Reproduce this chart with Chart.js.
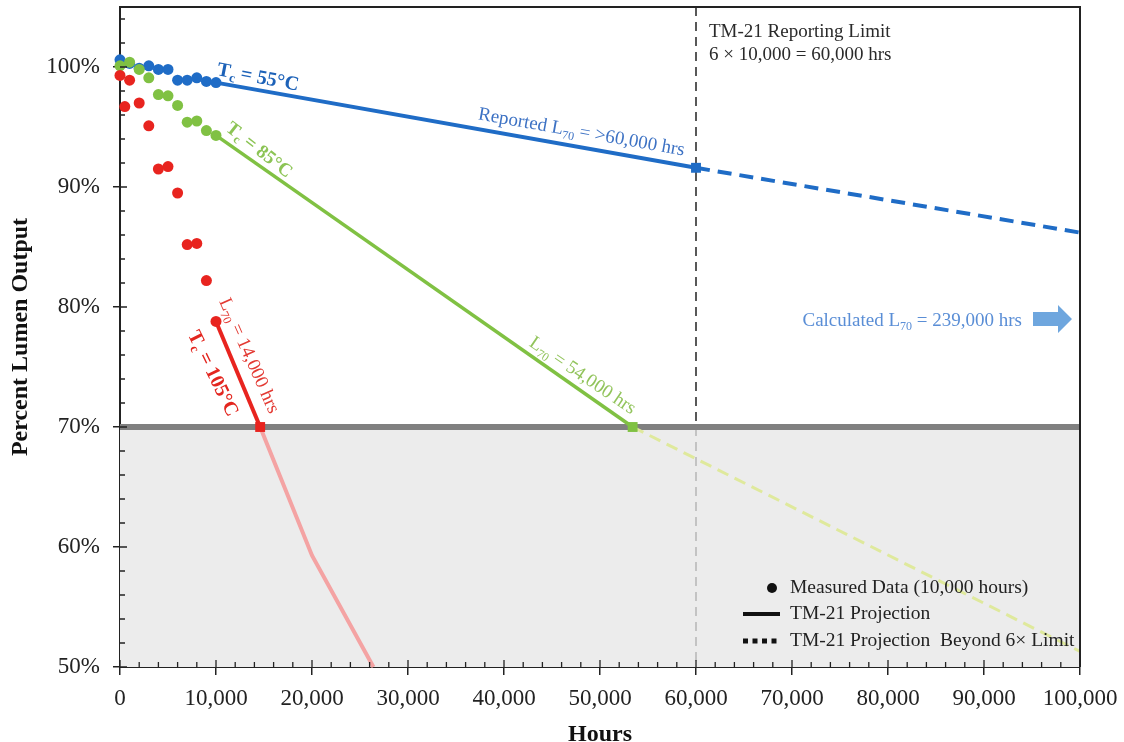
<!DOCTYPE html>
<html>
<head>
<meta charset="utf-8">
<script src="https://cdn.jsdelivr.net/npm/chart.js@4.4.0/dist/chart.umd.min.js"></script>
<style>
html,body{margin:0;padding:0;background:#fff;}
#wrap{width:1124px;height:742px;position:relative;}
</style>
</head>
<body>
<div id="wrap"><canvas id="c" width="1124" height="742"></canvas></div>
<script>
// ---- data ----
const hours55 = [0,1000,2000,3000,4000,5000,6000,7000,8000,9000,10000];
const lumen55 = [100.6,100.3,99.9,100.1,99.8,99.8,98.9,98.9,99.1,98.8,98.7];
const hours85 = [0,1000,2000,3000,4000,5000,6000,7000,8000,9000,10000];
const lumen85 = [100.1,100.4,99.8,99.1,97.7,97.6,96.8,95.4,95.5,94.7,94.3];
const hours105 = [0,500,1000,2000,3000,4000,5000,6000,7000,8000,9000,10000];
const lumen105 = [99.3,96.7,98.9,97.0,95.1,91.5,91.7,89.5,85.2,85.3,82.2,78.8];

const proj55Hours = [10000,60000];   const proj55 = [98.7,91.6];
const beyond55Hours = [60000,100000]; const beyond55 = [91.6,86.2];
const proj85Hours = [10000,53400];   const proj85 = [94.3,70];
const beyond85Hours = [53400,100000]; const beyond85 = [70,51.3];
const proj105Hours = [10000,14600];  const proj105 = [78.8,70];
const beyond105Hours = [14600,20000,26400]; const beyond105 = [70,59.3,50];

const l70Hours = [14600,53400,60000];
const l70Values = [70,70,91.6];

const thresholdHours = [0,100000]; const thresholdValue = [70,70];
const limitHours = [60000,60000];
const limitUpper = [105,70];
const limitLower = [70,50];

const xTicks = [0,10000,20000,30000,40000,50000,60000,70000,80000,90000,100000];
const yTicks = [50,60,70,80,90,100];

// colors
const BLUE='#1f6cc6', GREEN='#80c143', RED='#e8241f', PINK='#f4a3a3', YGREEN='#dfe99c';

function pts(xs,ys){return xs.map((x,i)=>({x:x,y:ys[i]}));}

const FONT='"Liberation Serif", "Times New Roman", serif';

function drawRich(ctx,x,y,angle,parts,color){
  ctx.save();
  ctx.translate(x,y);
  ctx.rotate(angle*Math.PI/180);
  ctx.fillStyle=color;
  ctx.textBaseline='alphabetic';
  ctx.textAlign='left';
  let total=0;
  parts.forEach(p=>{ctx.font=p[1]+' '+FONT;p.w=ctx.measureText(p[0]).width;total+=p.w;});
  let cx=-total/2;
  parts.forEach(p=>{ctx.font=p[1]+' '+FONT;ctx.fillText(p[0],cx,7+(p[2]||0));cx+=p.w;});
  ctx.restore();
}

const decor = {
  id:'decor',
  beforeDatasetsDraw(chart){
    const {ctx,chartArea:a,scales:{x,y}}=chart;
    const y70=y.getPixelForValue(70);
    ctx.save();
    ctx.fillStyle='#ececec';
    ctx.fillRect(a.left,y70,a.right-a.left,a.bottom-y70);
    ctx.restore();
  },
  afterDraw(chart){
    const {ctx,chartArea:a,scales:{x,y}}=chart;
    ctx.save();
    // frame top/right
    ctx.strokeStyle='#222';ctx.lineWidth=2;
    ctx.beginPath();
    ctx.moveTo(a.left,a.top);ctx.lineTo(a.right,a.top);ctx.lineTo(a.right,a.bottom);
    ctx.stroke();
    // minor ticks and inner major ticks
    ctx.lineWidth=1.3;ctx.strokeStyle='#222';
    ctx.beginPath();
    for(let v=0;v<=100000;v+=2000){
      const px=x.getPixelForValue(v);
      const len=(v%10000===0)?7:5;
      ctx.moveTo(px,a.bottom);ctx.lineTo(px,a.bottom-len);
    }
    for(let v=50;v<=104;v+=2){
      const py=y.getPixelForValue(v);
      const len=(v%10===0)?7:5;
      ctx.moveTo(a.left,py);ctx.lineTo(a.left+len,py);
    }
    ctx.stroke();

    // annotations
    const P=(hx,vy)=>[x.getPixelForValue(hx),y.getPixelForValue(vy)];
    let p;
    p=P(14400,99.25); drawRich(ctx,p[0],p[1],11,[['T','bold 20px'],['c','bold 13px',4],[' = 55°C','bold 20px']],'#1d62b8');
    p=P(48100,94.7);  drawRich(ctx,p[0],p[1],10,[['Reported L','19px'],['70','12px',4],[' = >60,000 hrs','19px']],'#3d72c4');
    p=P(14600,93.2);  drawRich(ctx,p[0],p[1],38,[['T','bold 19px'],['c','bold 12px',4],[' = 85°C','bold 19px']],'#8cc455');
    p=P(48300,74.4);  drawRich(ctx,p[0],p[1],34,[['L','19px'],['70','12px',4],[' = 54,000 hrs','19px']],'#92c45c');
    p=P(13600,76.0);  drawRich(ctx,p[0],p[1],66,[['L','19px'],['70','12px',4],[' = 14,000 hrs','19px']],'#e33a33');
    p=P(9800,74.5);   drawRich(ctx,p[0],p[1],64,[['T','bold 20px'],['c','bold 13px',4],[' = 105°C','bold 20px']],'#e3261f');

    // reporting limit text
    const lx=x.getPixelForValue(60000)+13;
    ctx.fillStyle='#2a2a2a';ctx.font='19px '+FONT;ctx.textBaseline='alphabetic';ctx.textAlign='left';
    ctx.fillText('TM-21 Reporting Limit',lx,a.top+30);
    ctx.fillText('6 × 10,000 = 60,000 hrs',lx,a.top+53);

    // calculated L70
    const cy=y.getPixelForValue(79.0);
    ctx.fillStyle='#5a8ed6';
    const t1='Calculated L',t2='70',t3=' = 239,000 hrs';
    ctx.font='19px '+FONT;const w1=ctx.measureText(t1).width,w3=ctx.measureText(t3).width;
    ctx.font='12px '+FONT;const w2=ctx.measureText(t2).width;
    let sx=a.right-58-(w1+w2+w3);
    ctx.font='19px '+FONT;ctx.fillText(t1,sx,cy+7);
    ctx.font='12px '+FONT;ctx.fillText(t2,sx+w1,cy+11);
    ctx.font='19px '+FONT;ctx.fillText(t3,sx+w1+w2,cy+7);
    // arrow
    const ax0=a.right-47, ax1=a.right-8;
    ctx.fillStyle='#6ea6de';
    ctx.beginPath();
    ctx.moveTo(ax0,cy-7);ctx.lineTo(ax1-14,cy-7);ctx.lineTo(ax1-14,cy-14);
    ctx.lineTo(ax1,cy);ctx.lineTo(ax1-14,cy+14);ctx.lineTo(ax1-14,cy+7);ctx.lineTo(ax0,cy+7);
    ctx.closePath();ctx.fill();

    // legend
    const lgx=a.right-340;
    const ly1=a.bottom-79, ly2=a.bottom-53, ly3=a.bottom-26;
    ctx.fillStyle='#111';
    ctx.beginPath();ctx.arc(lgx+32,ly1,5,0,Math.PI*2);ctx.fill();
    ctx.fillRect(lgx+3,ly2-2,37,4);
    for(let i=0;i<4;i++){ctx.fillRect(lgx+3+i*9.5,ly3-2.5,5,5);}
    ctx.fillStyle='#222';ctx.font='19.5px '+FONT;ctx.textBaseline='middle';
    ctx.fillText('Measured Data (10,000 hours)',lgx+50,ly1);
    ctx.fillText('TM-21 Projection',lgx+50,ly2);
    ctx.fillText('TM-21 Projection  Beyond 6× Limit',lgx+50,ly3);
    ctx.restore();
  }
};

const lineDs=(data,color,width,order,extra)=>Object.assign({
  data:data,showLine:true,borderColor:color,backgroundColor:color,borderWidth:width,
  pointRadius:0,pointHoverRadius:0,order:order,tension:0,clip:false
},extra||{});
const pointDs=(data,color,order)=>({
  data:data,showLine:false,backgroundColor:color,borderColor:color,borderWidth:0,
  pointRadius:5.5,pointHoverRadius:5.5,order:order,clip:false
});

new Chart(document.getElementById('c'),{
  type:'scatter',
  data:{datasets:[
    lineDs(pts(limitHours,limitLower),'#b5b5b5',1.5,20,{borderDash:[9,6]}),
    lineDs(pts(thresholdHours,thresholdValue),'#808080',6,15),
    lineDs(pts(limitHours,limitUpper),'#222',1.5,14,{borderDash:[9,6]}),
    lineDs(pts(beyond85Hours,beyond85),YGREEN,3,12,{borderDash:[12,7]}),
    lineDs(pts(beyond105Hours,beyond105),PINK,4,12),
    lineDs(pts(beyond55Hours,beyond55),BLUE,4,11,{borderDash:[14,8]}),
    lineDs(pts(proj85Hours,proj85),GREEN,3.5,10),
    lineDs(pts(proj105Hours,proj105),RED,4,10),
    lineDs(pts(proj55Hours,proj55),BLUE,4,10),
    pointDs(pts(hours105,lumen105),RED,4),
    pointDs(pts(hours85,lumen85),GREEN,5),
    pointDs(pts(hours55,lumen55),BLUE,6),
    {data:pts(l70Hours,l70Values),showLine:false,pointStyle:'rect',pointRadius:7,pointHoverRadius:7,
     backgroundColor:[RED,GREEN,BLUE],borderWidth:0,order:1,clip:false}
  ]},
  options:{
    responsive:false,animation:false,
    layout:{padding:{top:7,right:44,left:0,bottom:0}},
    plugins:{legend:{display:false},tooltip:{enabled:false}},
    scales:{
      x:{type:'linear',min:0,max:100000,
        afterBuildTicks(s){s.ticks=xTicks.map(v=>({value:v}));},
        afterFit(s){s.height=75;s.paddingLeft=0;s.paddingRight=0;},
        ticks:{padding:10,color:'#222',font:{family:FONT,size:23},maxRotation:0,
          callback:v=>v.toLocaleString('en-US')},
        grid:{display:true,drawOnChartArea:false,tickLength:8,color:'#222',lineWidth:1.5},
        border:{display:true,color:'#222',width:2},
        title:{display:true,text:'Hours',color:'#111',font:{family:FONT,size:24,weight:'bold',lineHeight:1},padding:{top:0,bottom:-5}}
      },
      y:{type:'linear',min:50,max:105,
        afterBuildTicks(s){s.ticks=yTicks.map(v=>({value:v}));},
        afterFit(s){s.width=120;s.paddingTop=0;s.paddingBottom=0;},
        ticks:{padding:13,color:'#222',font:{family:FONT,size:23},callback:v=>v+'%'},
        grid:{display:true,drawOnChartArea:false,tickLength:7,color:'#222',lineWidth:1.5},
        border:{display:true,color:'#222',width:2},
        title:{display:true,text:'Percent Lumen Output',color:'#111',font:{family:FONT,size:24,weight:'bold',lineHeight:1},padding:{top:9,bottom:0}}
      }
    }
  },
  plugins:[decor]
});
</script>
</body>
</html>
